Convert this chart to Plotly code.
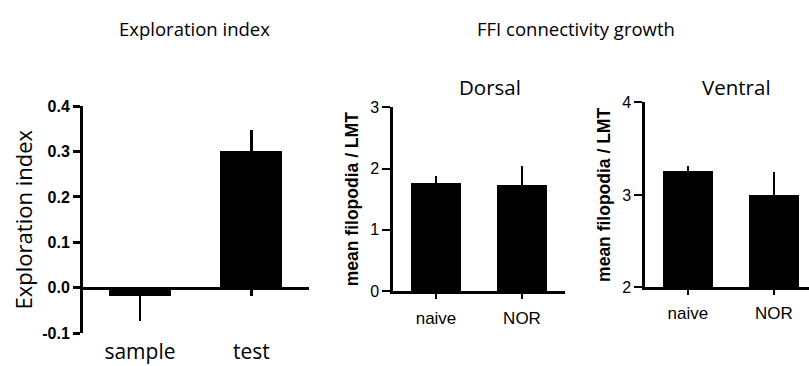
import plotly.graph_objects as go

W, H = 809, 366

# ---- data ----
expl_cats = ["sample", "test"]
expl_vals = [-0.018, 0.300]
expl_err_plus = [0.0, 0.047]
expl_err_minus = [0.056, 0.0]

dors_cats = ["naive", "NOR"]
dors_vals = [1.76, 1.73]
dors_err = [0.11, 0.31]

vent_cats = ["naive", "NOR"]
vent_vals = [3.25, 2.99]
vent_err = [0.06, 0.26]

expl_yticks = [-0.1, 0.0, 0.1, 0.2, 0.3, 0.4]
expl_yticklabels = ["-0.1", "0.0", "0.1", "0.2", "0.3", "0.4"]
dors_yticks = [0, 1, 2, 3]
vent_yticks = [2, 3, 4]


def px_x(p):
    return p / W


def px_y(p):
    return 1 - p / H


CAL = "Open Sans"
ARIAL = "Liberation Sans, Arial"

fig = go.Figure()

fig.add_trace(go.Bar(
    x=[0, 1], y=expl_vals, width=0.556, marker=dict(color="black", line=dict(width=0)),
    error_y=dict(type="data", symmetric=False, array=expl_err_plus, arrayminus=expl_err_minus,
                 color="black", thickness=2.2, width=0),
    xaxis="x", yaxis="y", showlegend=False))

fig.add_trace(go.Bar(
    x=[0, 1], y=dors_vals, width=0.58, marker=dict(color="black", line=dict(width=0)),
    error_y=dict(type="data", symmetric=False, array=dors_err, arrayminus=[0, 0],
                 color="black", thickness=2, width=0),
    xaxis="x2", yaxis="y2", showlegend=False))

fig.add_trace(go.Bar(
    x=[0, 1], y=vent_vals, width=0.58, marker=dict(color="black", line=dict(width=0)),
    error_y=dict(type="data", symmetric=False, array=vent_err, arrayminus=[0, 0],
                 color="black", thickness=2, width=0),
    xaxis="x3", yaxis="y3", showlegend=False))

# panel 1 geometry
y1_dom = [px_y(341), px_y(103)]
zero_pos = y1_dom[0] + (0 - (-0.1)) / 0.5 * (y1_dom[1] - y1_dom[0])

fig.update_layout(
    width=W, height=H, margin=dict(l=0, r=0, t=0, b=0),
    paper_bgcolor="white", plot_bgcolor="white",
    bargap=0,
    xaxis=dict(domain=[px_x(83), px_x(309)], range=[-0.511, 1.516],
               anchor="free", position=zero_pos,
               tickvals=[0, 1], ticktext=expl_cats,
               showline=True, linecolor="black", linewidth=3,
               ticks="outside", ticklen=6, tickwidth=2.5, tickcolor="black",
               ticklabelstandoff=38,
               tickfont=dict(family=CAL, size=21, color="black"),
               showgrid=False, zeroline=False, fixedrange=True),
    yaxis=dict(domain=y1_dom, range=[-0.1, 0.4], anchor="x",
               tickvals=expl_yticks, ticktext=expl_yticklabels,
               showline=True, linecolor="black", linewidth=3,
               ticks="outside", ticklen=7, tickwidth=3, tickcolor="black",
               tickfont=dict(family=ARIAL, size=16, color="black", weight="bold"),
               title=dict(text="Exploration index", font=dict(family=CAL, size=22, color="black"),
                          standoff=4),
               showgrid=False, zeroline=False),
    xaxis2=dict(domain=[px_x(393), px_x(565)], range=[-0.5, 1.5], anchor="y2",
                tickvals=[0, 1], ticktext=dors_cats,
                showline=True, linecolor="black", linewidth=2.5,
                ticks="outside", ticklen=5, tickwidth=2, tickcolor="black",
                ticklabelstandoff=5,
                tickfont=dict(family=ARIAL, size=17, color="black"),
                showgrid=False, zeroline=False),
    yaxis2=dict(domain=[px_y(297), px_y(104)], range=[0, 3], anchor="x2",
                tickvals=dors_yticks,
                showline=True, linecolor="black", linewidth=2.5,
                ticks="outside", ticklen=8, tickwidth=2, tickcolor="black",
                tickfont=dict(family=ARIAL, size=16, color="black"),
                title=dict(text="mean filopodia / LMT",
                           font=dict(family=ARIAL, size=17.5, color="black", weight="bold"),
                           standoff=8),
                showgrid=False, zeroline=False),
    xaxis3=dict(domain=[px_x(645), px_x(809)], range=[-0.5, 1.41], anchor="y3",
                tickvals=[0, 1], ticktext=vent_cats,
                showline=True, linecolor="black", linewidth=2.5,
                ticks="outside", ticklen=5, tickwidth=2, tickcolor="black",
                ticklabelstandoff=3,
                tickfont=dict(family=ARIAL, size=17, color="black"),
                showgrid=False, zeroline=False),
    yaxis3=dict(domain=[px_y(293), px_y(99)], range=[2, 4], anchor="x3",
                tickvals=vent_yticks,
                showline=True, linecolor="black", linewidth=2.5,
                ticks="outside", ticklen=8, tickwidth=2, tickcolor="black",
                tickfont=dict(family=ARIAL, size=16, color="black"),
                title=dict(text="mean filopodia / LMT",
                           font=dict(family=ARIAL, size=17.5, color="black", weight="bold"),
                           standoff=8),
                showgrid=False, zeroline=False),
)

titles = [
    ("Exploration index", 117, 21, 18.5),
    ("FFI connectivity growth", 475, 21, 18.5),
    ("Dorsal", 457, 83, 20.5),
    ("Ventral", 700, 83, 20.5),
]
for txt, xl, yc, fs in titles:
    fig.add_annotation(text=txt, x=px_x(xl), y=px_y(yc), xref="paper", yref="paper",
                       xanchor="left", yanchor="middle", showarrow=False,
                       font=dict(family=CAL, size=fs, color="black"))

fig.write_html("out.html")
